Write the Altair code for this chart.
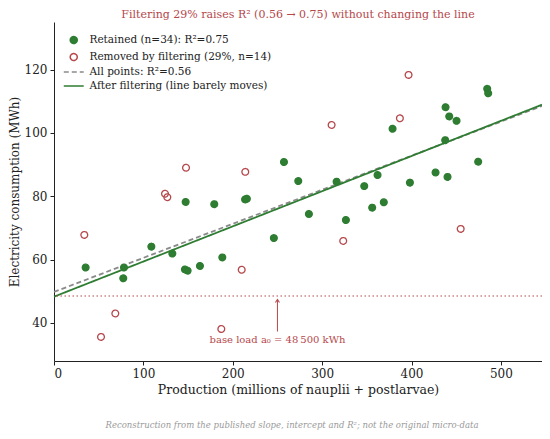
import altair as alt
import pandas as pd

# ---- data ----
retained_x = [35.4, 78.3, 77.5, 108.9, 132.4, 146.5, 149.5, 163.3, 188.3, 246.0,
              147.3, 179.3, 213.8, 215.8, 257.3, 273.3, 285.2, 316.2, 326.6, 347.1,
              356.0, 362.0, 369.0, 378.8, 398.2, 426.9, 438.1, 442.2, 450.4, 437.7,
              440.3, 474.6, 484.7, 485.8]
retained_y = [57.5, 57.5, 54.1, 64.1, 61.9, 56.9, 56.5, 58.0, 60.7, 66.8,
              78.2, 77.5, 79.0, 79.2, 90.8, 84.8, 74.4, 84.6, 72.5, 83.2,
              76.4, 86.7, 78.1, 101.3, 84.3, 87.5, 108.1, 105.2, 103.8, 97.7,
              86.1, 90.9, 113.9, 112.5]
removed_x = [33.9, 52.6, 68.6, 124.2, 126.8, 147.7, 187.2, 210.0, 214.0, 310.6,
             323.6, 387.0, 396.7, 455.0]
removed_y = [67.8, 35.6, 43.0, 80.8, 79.7, 89.0, 38.1, 56.8, 87.7, 102.5,
             65.9, 104.6, 118.3, 69.7]
line_x = [0, 546]
fit_all_y = [49.8, 108.5]
fit_kept_y = [48.3, 108.9]
base_load = 48.5
x_ticks = [0, 100, 200, 300, 400, 500]
y_ticks = [40, 60, 80, 100, 120]

S_RET = "Retained (n=34): R²=0.75"
S_REM = "Removed by filtering (29%, n=14)"
S_ALL = "All points: R²=0.56"
S_FIT = "After filtering (line barely moves)"
series = [S_RET, S_REM, S_ALL, S_FIT]

TITLE = "Filtering 29% raises R² (0.56 → 0.75) without changing the line"
FOOT = "Reconstruction from the published slope, intercept and R²; not the original micro-data"
ANNOT = "base load a₀ = 48\u202f500 kWh"

GREEN = "#2e7d32"
RED = "#b5474b"
GREY = "#8a8a8a"
FONT = "DejaVu Serif"
LINE_PATH = "M-2.85,0L2.85,0"
CHEVRON = "M-1,1.5L0,0L1,1.5"

pts = pd.DataFrame({
    "x": retained_x + removed_x,
    "y": retained_y + removed_y,
    "series": [S_RET] * len(retained_x) + [S_REM] * len(removed_x),
})
lines = pd.DataFrame({
    "x": line_x + line_x,
    "y": fit_all_y + fit_kept_y,
    "series": [S_ALL] * 2 + [S_FIT] * 2,
})
one = pd.DataFrame({"k": [0]})

xs = alt.Scale(domain=[0, 546], nice=False, zero=False)
ys = alt.Scale(domain=[28, 135], nice=False, zero=False)
x_enc = alt.X("x:Q", scale=xs,
              axis=alt.Axis(values=x_ticks, title="Production (millions of nauplii + postlarvae)"))
y_enc = alt.Y("y:Q", scale=ys,
              axis=alt.Axis(values=y_ticks, title="Electricity consumption (MWh)"))

stroke_enc = alt.Stroke("series:N", title=None,
                        scale=alt.Scale(domain=series, range=[GREEN, RED, GREY, GREEN]))
fill_enc = alt.Fill("series:N", title=None,
                    scale=alt.Scale(domain=series, range=[GREEN, "transparent", "transparent", "transparent"]))
shape_enc = alt.Shape("series:N", title=None,
                      scale=alt.Scale(domain=series, range=["circle", "circle", LINE_PATH, LINE_PATH]))
dash_enc = alt.StrokeDash("series:N", title=None,
                          scale=alt.Scale(domain=series, range=[[1, 0], [1, 0], [5, 3], [1, 0]]))

line_layer = alt.Chart(lines).mark_line(strokeWidth=1.8).encode(
    x=x_enc, y=y_enc, stroke=stroke_enc, strokeDash=dash_enc)

base_rule = alt.Chart(one).mark_rule(color=RED, strokeDash=[1.5, 2.5], strokeWidth=1.1).encode(
    y=alt.datum(base_load))

pt_layer = alt.Chart(pts).mark_point(size=45, strokeWidth=1.3, opacity=1).encode(
    x=x_enc, y=y_enc, stroke=stroke_enc, fill=fill_enc, shape=shape_enc, strokeDash=dash_enc)

arrow = alt.Chart(one).mark_rule(color=RED, strokeWidth=1).encode(
    x=alt.datum(250), y=alt.datum(37.3), y2=alt.datum(47.2))
arrow_head = alt.Chart(one).mark_point(shape=CHEVRON, size=16, filled=False, strokeWidth=1.1,
                                       color=RED, opacity=1).encode(
    x=alt.datum(250), y=alt.datum(47.4))
annot = alt.Chart(one).mark_text(text=ANNOT, font=FONT, fontSize=10, color=RED,
                                 align="center", baseline="middle").encode(
    x=alt.datum(250), y=alt.datum(34.6))
foot = alt.Chart(one).mark_text(text=FOOT, font=FONT, fontSize=8.5, fontStyle="italic",
                                color="#9a9a9a", align="center", baseline="middle").encode(
    x=alt.value(238), y=alt.value(403))

chart = alt.layer(line_layer, base_rule, pt_layer, arrow, arrow_head, annot, foot).properties(
    width=488, height=339,
    padding={"left": 46, "top": 14, "right": 0, "bottom": 70},
    autosize=alt.AutoSizeParams(type="none"),
    title=alt.TitleParams(text=TITLE, font=FONT, fontSize=11, fontWeight="normal", color=RED,
                          anchor="middle", frame="group", offset=2),
).configure_axis(
    labelFont=FONT, titleFont=FONT, labelFontSize=12, titleFontSize=12.5, titleFontWeight="normal",
    labelColor="#222", titleColor="#222", domainColor="#222", tickColor="#222",
    tickSize=4, grid=False, labelPadding=3,
).configure_axisY(titlePadding=3, titleFontSize=12).configure_axisX(titlePadding=4).configure_view(
    stroke=None
).configure_legend(
    orient="none", legendX=14.5, legendY=12.8, padding=0,
    labelFont=FONT, labelFontSize=10.5, labelColor="#222",
    symbolSize=49, symbolStrokeWidth=1.5, rowPadding=3.0, labelOffset=10.5,
    labelLimit=400, symbolOpacity=1,
)

chart.save("out.html", embed_options={"renderer": "svg", "actions": False})
